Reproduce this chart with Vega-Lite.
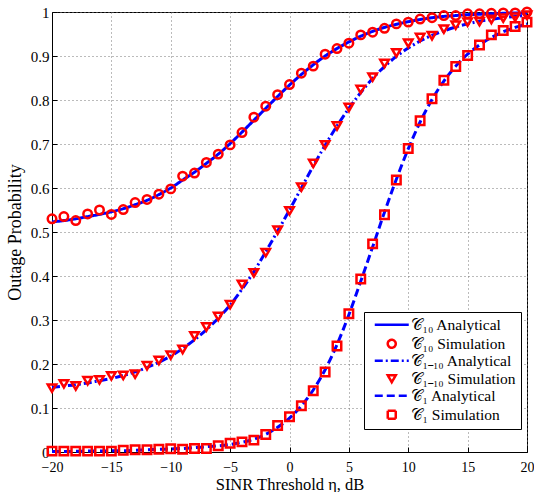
{
  "$schema": "https://vega.github.io/schema/vega-lite/v6.json",
  "width": 475,
  "height": 440,
  "autosize": "none",
  "padding": {"left": 52, "top": 12, "right": 7, "bottom": 40},
  "background": "white",
  "config": {
    "font": "Liberation Serif",
    "view": {"stroke": "black", "strokeWidth": 1},
    "axis": {
      "labelFont": "Liberation Serif",
      "labelFontSize": 15,
      "labelColor": "black",
      "labelFlush": false,
      "titleFont": "Liberation Serif",
      "titleFontSize": 18,
      "titleFontWeight": "normal",
      "titleColor": "black",
      "domainColor": "black",
      "tickColor": "black",
      "tickSize": -5,
      "grid": true,
      "gridColor": "#777777",
      "gridDash": [1, 3],
      "gridWidth": 1
    },
    "legend": {
      "labelFont": "Liberation Serif",
      "labelFontSize": 15.5,
      "labelColor": "black"
    }
  },
  "datasets": {
    "analytic": [
      {"x": -20, "p": 0.523, "series": "𝒞₁₀ Analytical"},
      {"x": -19, "p": 0.526, "series": "𝒞₁₀ Analytical"},
      {"x": -18, "p": 0.530, "series": "𝒞₁₀ Analytical"},
      {"x": -17, "p": 0.535, "series": "𝒞₁₀ Analytical"},
      {"x": -16, "p": 0.540, "series": "𝒞₁₀ Analytical"},
      {"x": -15, "p": 0.546, "series": "𝒞₁₀ Analytical"},
      {"x": -14, "p": 0.553, "series": "𝒞₁₀ Analytical"},
      {"x": -13, "p": 0.562, "series": "𝒞₁₀ Analytical"},
      {"x": -12, "p": 0.572, "series": "𝒞₁₀ Analytical"},
      {"x": -11, "p": 0.585, "series": "𝒞₁₀ Analytical"},
      {"x": -10, "p": 0.600, "series": "𝒞₁₀ Analytical"},
      {"x": -9, "p": 0.618, "series": "𝒞₁₀ Analytical"},
      {"x": -8, "p": 0.636, "series": "𝒞₁₀ Analytical"},
      {"x": -7, "p": 0.656, "series": "𝒞₁₀ Analytical"},
      {"x": -6, "p": 0.677, "series": "𝒞₁₀ Analytical"},
      {"x": -5, "p": 0.701, "series": "𝒞₁₀ Analytical"},
      {"x": -4, "p": 0.727, "series": "𝒞₁₀ Analytical"},
      {"x": -3, "p": 0.754, "series": "𝒞₁₀ Analytical"},
      {"x": -2, "p": 0.781, "series": "𝒞₁₀ Analytical"},
      {"x": -1, "p": 0.808, "series": "𝒞₁₀ Analytical"},
      {"x": 0, "p": 0.834, "series": "𝒞₁₀ Analytical"},
      {"x": 1, "p": 0.858, "series": "𝒞₁₀ Analytical"},
      {"x": 2, "p": 0.880, "series": "𝒞₁₀ Analytical"},
      {"x": 3, "p": 0.900, "series": "𝒞₁₀ Analytical"},
      {"x": 4, "p": 0.917, "series": "𝒞₁₀ Analytical"},
      {"x": 5, "p": 0.932, "series": "𝒞₁₀ Analytical"},
      {"x": 6, "p": 0.945, "series": "𝒞₁₀ Analytical"},
      {"x": 7, "p": 0.956, "series": "𝒞₁₀ Analytical"},
      {"x": 8, "p": 0.965, "series": "𝒞₁₀ Analytical"},
      {"x": 9, "p": 0.972, "series": "𝒞₁₀ Analytical"},
      {"x": 10, "p": 0.978, "series": "𝒞₁₀ Analytical"},
      {"x": 11, "p": 0.983, "series": "𝒞₁₀ Analytical"},
      {"x": 12, "p": 0.987, "series": "𝒞₁₀ Analytical"},
      {"x": 13, "p": 0.990, "series": "𝒞₁₀ Analytical"},
      {"x": 14, "p": 0.992, "series": "𝒞₁₀ Analytical"},
      {"x": 15, "p": 0.994, "series": "𝒞₁₀ Analytical"},
      {"x": 16, "p": 0.995, "series": "𝒞₁₀ Analytical"},
      {"x": 17, "p": 0.996, "series": "𝒞₁₀ Analytical"},
      {"x": 18, "p": 0.997, "series": "𝒞₁₀ Analytical"},
      {"x": 19, "p": 0.998, "series": "𝒞₁₀ Analytical"},
      {"x": 20, "p": 0.998, "series": "𝒞₁₀ Analytical"},

      {"x": -20, "p": 0.147, "series": "𝒞₁₋₁₀ Analytical"},
      {"x": -19, "p": 0.150, "series": "𝒞₁₋₁₀ Analytical"},
      {"x": -18, "p": 0.153, "series": "𝒞₁₋₁₀ Analytical"},
      {"x": -17, "p": 0.157, "series": "𝒞₁₋₁₀ Analytical"},
      {"x": -16, "p": 0.162, "series": "𝒞₁₋₁₀ Analytical"},
      {"x": -15, "p": 0.167, "series": "𝒞₁₋₁₀ Analytical"},
      {"x": -14, "p": 0.174, "series": "𝒞₁₋₁₀ Analytical"},
      {"x": -13, "p": 0.182, "series": "𝒞₁₋₁₀ Analytical"},
      {"x": -12, "p": 0.192, "series": "𝒞₁₋₁₀ Analytical"},
      {"x": -11, "p": 0.204, "series": "𝒞₁₋₁₀ Analytical"},
      {"x": -10, "p": 0.218, "series": "𝒞₁₋₁₀ Analytical"},
      {"x": -9, "p": 0.235, "series": "𝒞₁₋₁₀ Analytical"},
      {"x": -8, "p": 0.255, "series": "𝒞₁₋₁₀ Analytical"},
      {"x": -7, "p": 0.278, "series": "𝒞₁₋₁₀ Analytical"},
      {"x": -6, "p": 0.304, "series": "𝒞₁₋₁₀ Analytical"},
      {"x": -5, "p": 0.334, "series": "𝒞₁₋₁₀ Analytical"},
      {"x": -4, "p": 0.370, "series": "𝒞₁₋₁₀ Analytical"},
      {"x": -3, "p": 0.410, "series": "𝒞₁₋₁₀ Analytical"},
      {"x": -2, "p": 0.455, "series": "𝒞₁₋₁₀ Analytical"},
      {"x": -1, "p": 0.502, "series": "𝒞₁₋₁₀ Analytical"},
      {"x": 0, "p": 0.550, "series": "𝒞₁₋₁₀ Analytical"},
      {"x": 1, "p": 0.600, "series": "𝒞₁₋₁₀ Analytical"},
      {"x": 2, "p": 0.650, "series": "𝒞₁₋₁₀ Analytical"},
      {"x": 3, "p": 0.697, "series": "𝒞₁₋₁₀ Analytical"},
      {"x": 4, "p": 0.741, "series": "𝒞₁₋₁₀ Analytical"},
      {"x": 5, "p": 0.781, "series": "𝒞₁₋₁₀ Analytical"},
      {"x": 6, "p": 0.817, "series": "𝒞₁₋₁₀ Analytical"},
      {"x": 7, "p": 0.849, "series": "𝒞₁₋₁₀ Analytical"},
      {"x": 8, "p": 0.876, "series": "𝒞₁₋₁₀ Analytical"},
      {"x": 9, "p": 0.899, "series": "𝒞₁₋₁₀ Analytical"},
      {"x": 10, "p": 0.918, "series": "𝒞₁₋₁₀ Analytical"},
      {"x": 11, "p": 0.934, "series": "𝒞₁₋₁₀ Analytical"},
      {"x": 12, "p": 0.947, "series": "𝒞₁₋₁₀ Analytical"},
      {"x": 13, "p": 0.957, "series": "𝒞₁₋₁₀ Analytical"},
      {"x": 14, "p": 0.966, "series": "𝒞₁₋₁₀ Analytical"},
      {"x": 15, "p": 0.973, "series": "𝒞₁₋₁₀ Analytical"},
      {"x": 16, "p": 0.979, "series": "𝒞₁₋₁₀ Analytical"},
      {"x": 17, "p": 0.983, "series": "𝒞₁₋₁₀ Analytical"},
      {"x": 18, "p": 0.987, "series": "𝒞₁₋₁₀ Analytical"},
      {"x": 19, "p": 0.990, "series": "𝒞₁₋₁₀ Analytical"},
      {"x": 20, "p": 0.992, "series": "𝒞₁₋₁₀ Analytical"},

      {"x": -20, "p": 0.001, "series": "𝒞₁ Analytical"},
      {"x": -19, "p": 0.001, "series": "𝒞₁ Analytical"},
      {"x": -18, "p": 0.0015, "series": "𝒞₁ Analytical"},
      {"x": -17, "p": 0.002, "series": "𝒞₁ Analytical"},
      {"x": -16, "p": 0.002, "series": "𝒞₁ Analytical"},
      {"x": -15, "p": 0.003, "series": "𝒞₁ Analytical"},
      {"x": -14, "p": 0.003, "series": "𝒞₁ Analytical"},
      {"x": -13, "p": 0.004, "series": "𝒞₁ Analytical"},
      {"x": -12, "p": 0.005, "series": "𝒞₁ Analytical"},
      {"x": -11, "p": 0.006, "series": "𝒞₁ Analytical"},
      {"x": -10, "p": 0.007, "series": "𝒞₁ Analytical"},
      {"x": -9, "p": 0.008, "series": "𝒞₁ Analytical"},
      {"x": -8, "p": 0.010, "series": "𝒞₁ Analytical"},
      {"x": -7, "p": 0.012, "series": "𝒞₁ Analytical"},
      {"x": -6, "p": 0.014, "series": "𝒞₁ Analytical"},
      {"x": -5, "p": 0.017, "series": "𝒞₁ Analytical"},
      {"x": -4, "p": 0.022, "series": "𝒞₁ Analytical"},
      {"x": -3, "p": 0.029, "series": "𝒞₁ Analytical"},
      {"x": -2, "p": 0.040, "series": "𝒞₁ Analytical"},
      {"x": -1, "p": 0.056, "series": "𝒞₁ Analytical"},
      {"x": 0, "p": 0.077, "series": "𝒞₁ Analytical"},
      {"x": 1, "p": 0.105, "series": "𝒞₁ Analytical"},
      {"x": 2, "p": 0.141, "series": "𝒞₁ Analytical"},
      {"x": 3, "p": 0.187, "series": "𝒞₁ Analytical"},
      {"x": 4, "p": 0.244, "series": "𝒞₁ Analytical"},
      {"x": 5, "p": 0.312, "series": "𝒞₁ Analytical"},
      {"x": 6, "p": 0.388, "series": "𝒞₁ Analytical"},
      {"x": 7, "p": 0.466, "series": "𝒞₁ Analytical"},
      {"x": 8, "p": 0.545, "series": "𝒞₁ Analytical"},
      {"x": 9, "p": 0.620, "series": "𝒞₁ Analytical"},
      {"x": 10, "p": 0.689, "series": "𝒞₁ Analytical"},
      {"x": 11, "p": 0.750, "series": "𝒞₁ Analytical"},
      {"x": 12, "p": 0.801, "series": "𝒞₁ Analytical"},
      {"x": 13, "p": 0.843, "series": "𝒞₁ Analytical"},
      {"x": 14, "p": 0.877, "series": "𝒞₁ Analytical"},
      {"x": 15, "p": 0.904, "series": "𝒞₁ Analytical"},
      {"x": 16, "p": 0.925, "series": "𝒞₁ Analytical"},
      {"x": 17, "p": 0.942, "series": "𝒞₁ Analytical"},
      {"x": 18, "p": 0.955, "series": "𝒞₁ Analytical"},
      {"x": 19, "p": 0.965, "series": "𝒞₁ Analytical"},
      {"x": 20, "p": 0.973, "series": "𝒞₁ Analytical"}
    ],
    "simulation": [
      {"x": -20, "p": 0.530, "series": "𝒞₁₀ Simulation"},
      {"x": -19, "p": 0.535, "series": "𝒞₁₀ Simulation"},
      {"x": -18, "p": 0.526, "series": "𝒞₁₀ Simulation"},
      {"x": -17, "p": 0.541, "series": "𝒞₁₀ Simulation"},
      {"x": -16, "p": 0.550, "series": "𝒞₁₀ Simulation"},
      {"x": -15, "p": 0.540, "series": "𝒞₁₀ Simulation"},
      {"x": -14, "p": 0.551, "series": "𝒞₁₀ Simulation"},
      {"x": -13, "p": 0.567, "series": "𝒞₁₀ Simulation"},
      {"x": -12, "p": 0.574, "series": "𝒞₁₀ Simulation"},
      {"x": -11, "p": 0.586, "series": "𝒞₁₀ Simulation"},
      {"x": -10, "p": 0.598, "series": "𝒞₁₀ Simulation"},
      {"x": -9, "p": 0.627, "series": "𝒞₁₀ Simulation"},
      {"x": -8, "p": 0.634, "series": "𝒞₁₀ Simulation"},
      {"x": -7, "p": 0.658, "series": "𝒞₁₀ Simulation"},
      {"x": -6, "p": 0.677, "series": "𝒞₁₀ Simulation"},
      {"x": -5, "p": 0.698, "series": "𝒞₁₀ Simulation"},
      {"x": -4, "p": 0.726, "series": "𝒞₁₀ Simulation"},
      {"x": -3, "p": 0.761, "series": "𝒞₁₀ Simulation"},
      {"x": -2, "p": 0.786, "series": "𝒞₁₀ Simulation"},
      {"x": -1, "p": 0.812, "series": "𝒞₁₀ Simulation"},
      {"x": 0, "p": 0.835, "series": "𝒞₁₀ Simulation"},
      {"x": 1, "p": 0.861, "series": "𝒞₁₀ Simulation"},
      {"x": 2, "p": 0.877, "series": "𝒞₁₀ Simulation"},
      {"x": 3, "p": 0.904, "series": "𝒞₁₀ Simulation"},
      {"x": 4, "p": 0.917, "series": "𝒞₁₀ Simulation"},
      {"x": 5, "p": 0.929, "series": "𝒞₁₀ Simulation"},
      {"x": 6, "p": 0.948, "series": "𝒞₁₀ Simulation"},
      {"x": 7, "p": 0.954, "series": "𝒞₁₀ Simulation"},
      {"x": 8, "p": 0.963, "series": "𝒞₁₀ Simulation"},
      {"x": 9, "p": 0.973, "series": "𝒞₁₀ Simulation"},
      {"x": 10, "p": 0.977, "series": "𝒞₁₀ Simulation"},
      {"x": 11, "p": 0.984, "series": "𝒞₁₀ Simulation"},
      {"x": 12, "p": 0.987, "series": "𝒞₁₀ Simulation"},
      {"x": 13, "p": 0.992, "series": "𝒞₁₀ Simulation"},
      {"x": 14, "p": 0.992, "series": "𝒞₁₀ Simulation"},
      {"x": 15, "p": 0.996, "series": "𝒞₁₀ Simulation"},
      {"x": 16, "p": 0.996, "series": "𝒞₁₀ Simulation"},
      {"x": 17, "p": 0.997, "series": "𝒞₁₀ Simulation"},
      {"x": 18, "p": 0.998, "series": "𝒞₁₀ Simulation"},
      {"x": 19, "p": 0.998, "series": "𝒞₁₀ Simulation"},
      {"x": 20, "p": 1.0, "series": "𝒞₁₀ Simulation"},

      {"x": -20, "p": 0.145, "series": "𝒞₁₋₁₀ Simulation"},
      {"x": -19, "p": 0.155, "series": "𝒞₁₋₁₀ Simulation"},
      {"x": -18, "p": 0.150, "series": "𝒞₁₋₁₀ Simulation"},
      {"x": -17, "p": 0.162, "series": "𝒞₁₋₁₀ Simulation"},
      {"x": -16, "p": 0.164, "series": "𝒞₁₋₁₀ Simulation"},
      {"x": -15, "p": 0.173, "series": "𝒞₁₋₁₀ Simulation"},
      {"x": -14, "p": 0.174, "series": "𝒞₁₋₁₀ Simulation"},
      {"x": -13, "p": 0.177, "series": "𝒞₁₋₁₀ Simulation"},
      {"x": -12, "p": 0.196, "series": "𝒞₁₋₁₀ Simulation"},
      {"x": -11, "p": 0.208, "series": "𝒞₁₋₁₀ Simulation"},
      {"x": -10, "p": 0.220, "series": "𝒞₁₋₁₀ Simulation"},
      {"x": -9, "p": 0.233, "series": "𝒞₁₋₁₀ Simulation"},
      {"x": -8, "p": 0.264, "series": "𝒞₁₋₁₀ Simulation"},
      {"x": -7, "p": 0.284, "series": "𝒞₁₋₁₀ Simulation"},
      {"x": -6, "p": 0.308, "series": "𝒞₁₋₁₀ Simulation"},
      {"x": -5, "p": 0.335, "series": "𝒞₁₋₁₀ Simulation"},
      {"x": -4, "p": 0.381, "series": "𝒞₁₋₁₀ Simulation"},
      {"x": -3, "p": 0.407, "series": "𝒞₁₋₁₀ Simulation"},
      {"x": -2, "p": 0.453, "series": "𝒞₁₋₁₀ Simulation"},
      {"x": -1, "p": 0.504, "series": "𝒞₁₋₁₀ Simulation"},
      {"x": 0, "p": 0.548, "series": "𝒞₁₋₁₀ Simulation"},
      {"x": 1, "p": 0.602, "series": "𝒞₁₋₁₀ Simulation"},
      {"x": 2, "p": 0.656, "series": "𝒞₁₋₁₀ Simulation"},
      {"x": 3, "p": 0.698, "series": "𝒞₁₋₁₀ Simulation"},
      {"x": 4, "p": 0.741, "series": "𝒞₁₋₁₀ Simulation"},
      {"x": 5, "p": 0.783, "series": "𝒞₁₋₁₀ Simulation"},
      {"x": 6, "p": 0.824, "series": "𝒞₁₋₁₀ Simulation"},
      {"x": 7, "p": 0.852, "series": "𝒞₁₋₁₀ Simulation"},
      {"x": 8, "p": 0.883, "series": "𝒞₁₋₁₀ Simulation"},
      {"x": 9, "p": 0.907, "series": "𝒞₁₋₁₀ Simulation"},
      {"x": 10, "p": 0.929, "series": "𝒞₁₋₁₀ Simulation"},
      {"x": 11, "p": 0.942, "series": "𝒞₁₋₁₀ Simulation"},
      {"x": 12, "p": 0.946, "series": "𝒞₁₋₁₀ Simulation"},
      {"x": 13, "p": 0.961, "series": "𝒞₁₋₁₀ Simulation"},
      {"x": 14, "p": 0.970, "series": "𝒞₁₋₁₀ Simulation"},
      {"x": 15, "p": 0.977, "series": "𝒞₁₋₁₀ Simulation"},
      {"x": 16, "p": 0.978, "series": "𝒞₁₋₁₀ Simulation"},
      {"x": 17, "p": 0.983, "series": "𝒞₁₋₁₀ Simulation"},
      {"x": 18, "p": 0.986, "series": "𝒞₁₋₁₀ Simulation"},
      {"x": 19, "p": 0.988, "series": "𝒞₁₋₁₀ Simulation"},
      {"x": 20, "p": 0.993, "series": "𝒞₁₋₁₀ Simulation"},

      {"x": -20, "p": 0.002, "series": "𝒞₁ Simulation"},
      {"x": -19, "p": 0.002, "series": "𝒞₁ Simulation"},
      {"x": -18, "p": 0.002, "series": "𝒞₁ Simulation"},
      {"x": -17, "p": 0.002, "series": "𝒞₁ Simulation"},
      {"x": -16, "p": 0.002, "series": "𝒞₁ Simulation"},
      {"x": -15, "p": 0.002, "series": "𝒞₁ Simulation"},
      {"x": -14, "p": 0.004, "series": "𝒞₁ Simulation"},
      {"x": -13, "p": 0.005, "series": "𝒞₁ Simulation"},
      {"x": -12, "p": 0.005, "series": "𝒞₁ Simulation"},
      {"x": -11, "p": 0.006, "series": "𝒞₁ Simulation"},
      {"x": -10, "p": 0.0075, "series": "𝒞₁ Simulation"},
      {"x": -9, "p": 0.006, "series": "𝒞₁ Simulation"},
      {"x": -8, "p": 0.008, "series": "𝒞₁ Simulation"},
      {"x": -7, "p": 0.008, "series": "𝒞₁ Simulation"},
      {"x": -6, "p": 0.014, "series": "𝒞₁ Simulation"},
      {"x": -5, "p": 0.020, "series": "𝒞₁ Simulation"},
      {"x": -4, "p": 0.023, "series": "𝒞₁ Simulation"},
      {"x": -3, "p": 0.027, "series": "𝒞₁ Simulation"},
      {"x": -2, "p": 0.040, "series": "𝒞₁ Simulation"},
      {"x": -1, "p": 0.060, "series": "𝒞₁ Simulation"},
      {"x": 0, "p": 0.080, "series": "𝒞₁ Simulation"},
      {"x": 1, "p": 0.105, "series": "𝒞₁ Simulation"},
      {"x": 2, "p": 0.139, "series": "𝒞₁ Simulation"},
      {"x": 3, "p": 0.182, "series": "𝒞₁ Simulation"},
      {"x": 4, "p": 0.241, "series": "𝒞₁ Simulation"},
      {"x": 5, "p": 0.314, "series": "𝒞₁ Simulation"},
      {"x": 6, "p": 0.393, "series": "𝒞₁ Simulation"},
      {"x": 7, "p": 0.473, "series": "𝒞₁ Simulation"},
      {"x": 8, "p": 0.539, "series": "𝒞₁ Simulation"},
      {"x": 9, "p": 0.618, "series": "𝒞₁ Simulation"},
      {"x": 10, "p": 0.690, "series": "𝒞₁ Simulation"},
      {"x": 11, "p": 0.753, "series": "𝒞₁ Simulation"},
      {"x": 12, "p": 0.803, "series": "𝒞₁ Simulation"},
      {"x": 13, "p": 0.845, "series": "𝒞₁ Simulation"},
      {"x": 14, "p": 0.876, "series": "𝒞₁ Simulation"},
      {"x": 15, "p": 0.901, "series": "𝒞₁ Simulation"},
      {"x": 16, "p": 0.925, "series": "𝒞₁ Simulation"},
      {"x": 17, "p": 0.948, "series": "𝒞₁ Simulation"},
      {"x": 18, "p": 0.958, "series": "𝒞₁ Simulation"},
      {"x": 19, "p": 0.967, "series": "𝒞₁ Simulation"},
      {"x": 20, "p": 0.977, "series": "𝒞₁ Simulation"}
    ]
  },
  "encoding": {
    "x": {
      "field": "x",
      "type": "quantitative",
      "scale": {"domain": [-20, 20], "nice": false},
      "axis": {
        "title": "SINR Threshold η, dB",
        "values": [-20, -15, -10, -5, 0, 5, 10, 15, 20],
        "labelFontSize": 14,
        "labelPadding": 13,
        "titleFontSize": 16.5,
        "titleBaseline": "alphabetic",
        "titleY": 37
      }
    },
    "y": {
      "field": "p",
      "type": "quantitative",
      "scale": {"domain": [0, 1], "nice": false},
      "axis": {"title": "Outage Probability", "values": [0, 0.1, 0.2, 0.3, 0.4, 0.5, 0.6, 0.7, 0.8, 0.9, 1], "format": "~g", "labelPadding": 8, "titlePadding": 6}
    },
    "color": {
      "field": "series",
      "type": "nominal",
      "scale": {
        "domain": ["𝒞₁₀ Analytical", "𝒞₁₀ Simulation", "𝒞₁₋₁₀ Analytical", "𝒞₁₋₁₀ Simulation", "𝒞₁ Analytical", "𝒞₁ Simulation"],
        "range": ["#0000ff", "#ff0000", "#0000ff", "#ff0000", "#0000ff", "#ff0000"]
      },
      "legend": {
        "title": null,
        "orient": "none",
        "legendX": 312,
        "legendY": 300,
        "fillColor": "white",
        "strokeColor": "black",
        "padding": 5,
        "symbolSize": 64,
        "symbolStrokeWidth": 2.5,
        "symbolOffset": 15,
        "labelOffset": 11,
        "rowPadding": 0
      }
    }
  },
  "layer": [
    {
      "data": {"name": "analytic"},
      "mark": {"type": "line", "interpolate": "monotone", "strokeWidth": 3},
      "encoding": {
        "strokeDash": {
          "field": "series",
          "type": "nominal",
          "scale": {
            "domain": ["𝒞₁₀ Analytical", "𝒞₁₀ Simulation", "𝒞₁₋₁₀ Analytical", "𝒞₁₋₁₀ Simulation", "𝒞₁ Analytical", "𝒞₁ Simulation"],
            "range": [[1, 0], [1, 0], [8, 3, 2, 3], [1, 0], [8, 4], [1, 0]]
          }
        }
      }
    },
    {
      "data": {"name": "simulation"},
      "mark": {"type": "point", "filled": false, "size": 72, "strokeWidth": 2.5, "opacity": 1},
      "encoding": {
        "shape": {
          "field": "series",
          "type": "nominal",
          "scale": {
            "domain": ["𝒞₁₀ Analytical", "𝒞₁₀ Simulation", "𝒞₁₋₁₀ Analytical", "𝒞₁₋₁₀ Simulation", "𝒞₁ Analytical", "𝒞₁ Simulation"],
            "range": ["M-4.25,0H4.25", "circle", "M-4.25,0H4.25", "triangle-down", "M-4.25,0H4.25", "square"]
          }
        }
      }
    }
  ]
}
